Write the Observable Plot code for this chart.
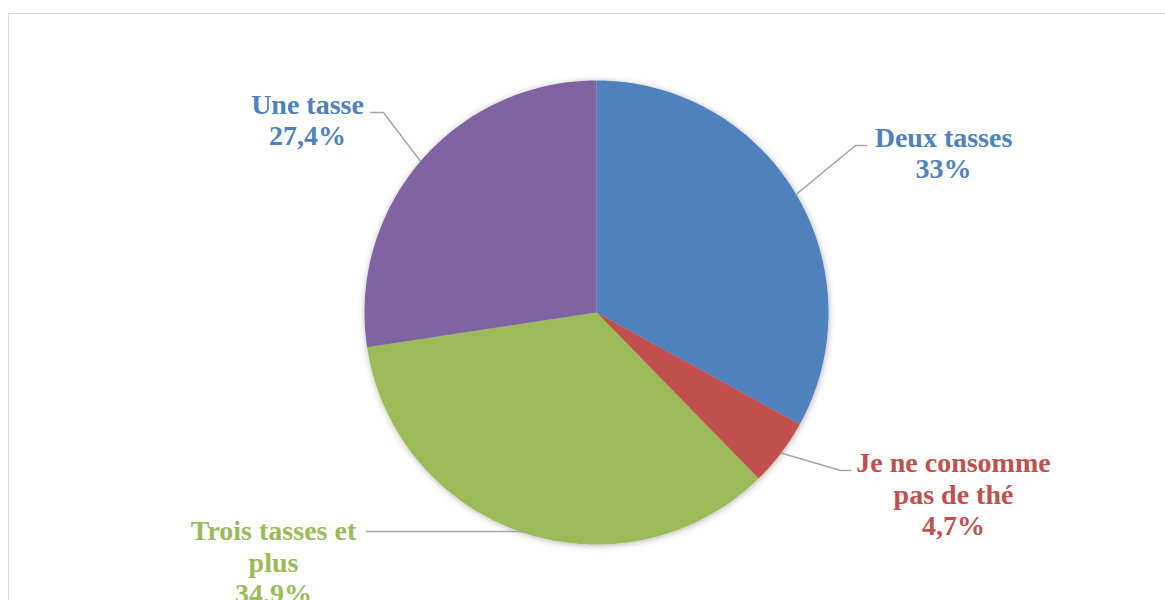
<!DOCTYPE html>
<html>
<head>
<meta charset="utf-8">
<script src="https://cdn.jsdelivr.net/npm/d3@7"></script>
<script src="https://cdn.jsdelivr.net/npm/@observablehq/plot@0.6"></script>
<style>
  html, body { margin: 0; padding: 0; background: #fff; overflow: hidden; }
  #wrap { position: relative; width: 1165px; height: 600px; }
  #frame { position: absolute; left: 8px; top: 13px; width: 1170px; height: 620px;
           border: 1px solid #d9d9d9; box-sizing: border-box; }
  #chart { position: absolute; left: 0; top: 0; }
</style>
</head>
<body>
<div id="wrap"><div id="frame"></div><div id="chart"></div></div>
<script>
// ---- data ----
const categories = ["Deux tasses", "Je ne consomme pas de thé", "Trois tasses et plus", "Une tasse"];
const labelTexts = ["Deux tasses", "Je ne consomme\npas de thé", "Trois tasses et\nplus", "Une tasse"];
const values = [33, 4.7, 34.9, 27.4];
const valueLabels = ["33%", "4,7%", "34,9%", "27,4%"];
const colors = ["#4F81BD", "#C0504D", "#9BBB59", "#8064A2"];
const labelColors = ["#4F81BD", "#C0504D", "#9BBB59", "#4F81BD"];

// ---- layout (pixels relative to pie centre, y down) ----
const W = 1165, H = 600, CX = 596, CY = 312, R = 232;
const labelPos = [[347, -160], [357, 181], [-323, 249], [-289, -193]];
const elbows = [[[259, -167], [270, -167]], [[244, 158], [254, 158]], [[-74, 219], [-230, 219]], [[-213, -200], [-226, -200]]];

// pie angles (clockwise from 12 o'clock)
const total = d3.sum(values);
let acc = 0;
const slices = categories.map((c, i) => {
  const a0 = acc / total * 2 * Math.PI;
  acc += values[i];
  const a1 = acc / total * 2 * Math.PI;
  return {c, i, a0, a1, mid: (a0 + a1) / 2};
});

const polyPts = [];
for (const s of slices) {
  const n = Math.max(8, Math.ceil((s.a1 - s.a0) / (2 * Math.PI) * 400));
  polyPts.push({k: s.c, x: 0, y: 0});
  for (let j = 0; j <= n; j++) {
    const a = s.a0 + (s.a1 - s.a0) * j / n;
    polyPts.push({k: s.c, x: R * Math.sin(a), y: -R * Math.cos(a)});
  }
  polyPts.push({k: s.c, x: 0, y: 0});
}

const leaderPts = [];
slices.forEach((s, i) => {
  leaderPts.push({k: s.c, x: R * Math.sin(s.mid), y: -R * Math.cos(s.mid)});
  for (const p of elbows[i]) leaderPts.push({k: s.c, x: p[0], y: p[1]});
});

const labels = slices.map((s, i) => ({
  text: labelTexts[i] + "\n" + valueLabels[i],
  x: labelPos[i][0], y: labelPos[i][1], color: labelColors[i]
}));

const colorScale = {domain: categories, range: colors};

const plot = Plot.plot({
  width: W, height: H,
  margin: 0,
  x: {domain: [-CX, W - CX], range: [0, W], axis: null},
  y: {domain: [-CY, H - CY], range: [0, H], axis: null},
  color: colorScale,
  style: {background: "transparent"},
  marks: [
    Plot.line(polyPts, {x: "x", y: "y", z: "k", fill: "k", stroke: null, curve: "linear", className: "pie"}),
    Plot.line(leaderPts, {x: "x", y: "y", z: "k", stroke: "#a6a6a6", strokeWidth: 1.5}),
    Plot.text(labels, {
      x: "x", y: "y", text: "text", fill: "color",
      fontFamily: "Liberation Serif", fontWeight: "bold", fontSize: 28,
      lineHeight: 1.13, textAnchor: "middle", lineAnchor: "middle"
    })
  ]
});

// soft shadow around the pie
const ns = "http://www.w3.org/2000/svg";
const defs = document.createElementNS(ns, "defs");
defs.innerHTML = '<filter id="pieShadow" x="-20%" y="-20%" width="140%" height="140%"><feDropShadow dx="0.5" dy="1" stdDeviation="3" flood-color="#000" flood-opacity="0.3"/></filter>';
plot.insertBefore(defs, plot.firstChild);
const pie = plot.querySelector(".pie");
if (pie) pie.setAttribute("filter", "url(#pieShadow)");

document.getElementById("chart").appendChild(plot);
</script>
</body>
</html>
